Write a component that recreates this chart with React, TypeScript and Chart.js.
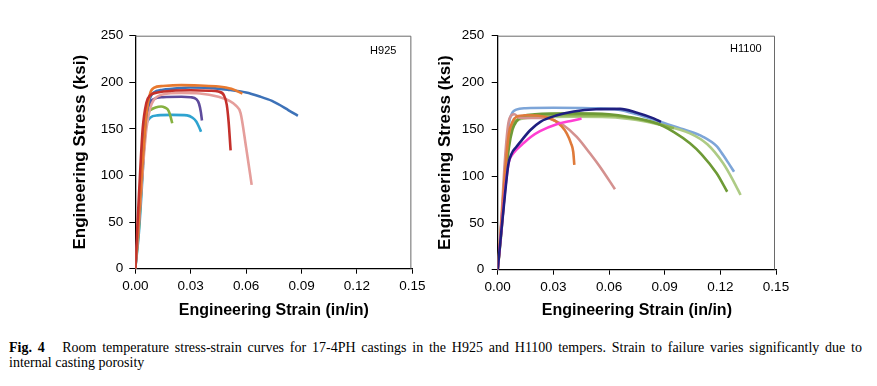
import React, { useEffect, useRef } from 'react';
import { Chart, registerables } from 'chart.js';
Chart.register(...registerables);

type Pt = [number, number];

// ---------- axis ticks ----------
const X_TICKS = [0, 0.03, 0.06, 0.09, 0.12, 0.15];
const Y_TICKS = [0, 50, 100, 150, 200, 250];

// ---------- H925 curves (strain in/in, stress ksi) ----------
const H925_BLUE: Pt[] = [[0, 0], [0.002, 60], [0.004, 120], [0.006, 165], [0.008, 183], [0.01, 189], [0.015, 192], [0.02, 193], [0.03, 194.5], [0.04, 194], [0.05, 192], [0.06, 189], [0.067, 185], [0.074, 180], [0.083, 170], [0.088, 164]];
const H925_ORANGE: Pt[] = [[0, 0], [0.002, 55], [0.004, 115], [0.006, 165], [0.008, 188], [0.01, 194], [0.015, 196], [0.025, 197], [0.035, 196.5], [0.045, 195.5], [0.052, 193], [0.058, 188]];
const H925_RED: Pt[] = [[0, 0], [0.002, 80], [0.004, 150], [0.006, 178], [0.008, 186], [0.012, 189], [0.02, 191], [0.03, 191.5], [0.04, 191], [0.045, 190], [0.048, 186], [0.0495, 176], [0.0505, 158], [0.0516, 127]];
const H925_PINK: Pt[] = [[0, 0], [0.002, 50], [0.004, 105], [0.006, 150], [0.008, 172], [0.01, 181], [0.015, 187], [0.025, 188.5], [0.035, 188], [0.045, 184.5], [0.051, 180], [0.0545, 175], [0.057, 167], [0.06, 130], [0.063, 90]];
const H925_PURPLE: Pt[] = [[0, 0], [0.002, 50], [0.004, 110], [0.006, 160], [0.008, 178], [0.01, 182], [0.015, 184], [0.025, 184.5], [0.03, 184], [0.033, 182], [0.0345, 177], [0.0355, 168], [0.0361, 159]];
const H925_GREEN: Pt[] = [[0, 0], [0.002, 45], [0.004, 110], [0.006, 163], [0.008, 170], [0.011, 173], [0.014, 174], [0.016, 173], [0.0175, 171], [0.0185, 167], [0.0195, 160], [0.02, 156]];
const H925_CYAN: Pt[] = [[0, 0], [0.002, 40], [0.0042, 110], [0.0052, 150], [0.006, 156], [0.008, 162], [0.012, 164.5], [0.02, 165], [0.028, 164.5], [0.031, 162], [0.033, 158], [0.0345, 152], [0.0356, 147]];

// ---------- H1100 curves ----------
const H1100_LIGHTBLUE: Pt[] = [[0, 0], [0.002, 50], [0.004, 110], [0.006, 155], [0.008, 168], [0.01, 171], [0.015, 172.5], [0.03, 173], [0.05, 172.5], [0.065, 171], [0.075, 166], [0.0874, 158], [0.1, 150], [0.1107, 142], [0.118, 132], [0.1215, 122.5], [0.125, 112], [0.1274, 104.7]];
const H1100_NAVY: Pt[] = [[0, 0], [0.002, 42], [0.004, 82], [0.0057, 112], [0.0075, 124], [0.01, 131], [0.012, 136], [0.0175, 149], [0.023, 158], [0.032, 165], [0.041, 169], [0.053, 171.4], [0.066, 171.8], [0.075, 167.7], [0.084, 161.7], [0.088, 158]];
const H1100_MAGENTA: Pt[] = [[0, 0], [0.002, 42], [0.004, 85], [0.006, 115], [0.0075, 122], [0.01, 128], [0.0138, 135], [0.018, 142], [0.0228, 148], [0.0318, 155.5], [0.0407, 159.5], [0.0452, 161.5]];
const H1100_ORANGE: Pt[] = [[0, 0], [0.002, 50], [0.004, 105], [0.006, 145], [0.008, 158], [0.0102, 163.5], [0.015, 165], [0.022, 164.5], [0.0264, 163], [0.031, 159], [0.0345, 153], [0.0372, 145.7], [0.0395, 135], [0.0407, 126], [0.0413, 112]];
const H1100_ROSE: Pt[] = [[0, 0], [0.002, 55], [0.004, 120], [0.0057, 156], [0.0075, 165], [0.009, 166], [0.0115, 162.5], [0.016, 162], [0.026, 162], [0.031, 159], [0.0353, 154.6], [0.0426, 142], [0.0497, 124.4], [0.0551, 110], [0.0632, 86]];
const H1100_DARKGREEN: Pt[] = [[0, 0], [0.002, 40], [0.004, 90], [0.006, 130], [0.008, 150], [0.01, 158], [0.0138, 164], [0.02, 166], [0.04, 167], [0.06, 166], [0.07, 163.5], [0.0856, 156.4], [0.095, 147], [0.1036, 135], [0.11, 123], [0.118, 103], [0.1237, 83.3]];
const H1100_MIDGREEN: Pt[] = [[0, 0], [0.002, 45], [0.004, 95], [0.006, 138], [0.008, 154], [0.011, 161], [0.02, 164], [0.04, 165], [0.06, 164.5], [0.075, 161], [0.088, 155], [0.095, 151]];
const H1100_LIGHTGREEN: Pt[] = [[0, 0], [0.002, 45], [0.004, 100], [0.006, 140], [0.008, 155], [0.011, 160], [0.02, 162.5], [0.04, 163.5], [0.06, 163], [0.075, 160], [0.0874, 155], [0.1036, 145.7], [0.113, 134], [0.1215, 113.7], [0.127, 95], [0.1309, 79.8]];

const H925_SERIES = [
  { data: H925_RED, color: '#C4302B' },
  { data: H925_ORANGE, color: '#E8792F' },
  { data: H925_BLUE, color: '#3D72B8' },
  { data: H925_PINK, color: '#E59E9B' },
  { data: H925_PURPLE, color: '#5E4B9C' },
  { data: H925_GREEN, color: '#86B140' },
  { data: H925_CYAN, color: '#2EA3D0' },
];

const H1100_SERIES = [
  { data: H1100_NAVY, color: '#1F1F80' },
  { data: H1100_MAGENTA, color: '#FF3FD2' },
  { data: H1100_ORANGE, color: '#DF7A3A' },
  { data: H1100_ROSE, color: '#D4918F' },
  { data: H1100_DARKGREEN, color: '#6E9A36' },
  { data: H1100_MIDGREEN, color: '#8DB350' },
  { data: H1100_LIGHTGREEN, color: '#AECB85' },
  { data: H1100_LIGHTBLUE, color: '#7DA5D8' },
];

const SANS = '"Liberation Sans", Arial, sans-serif';

interface PanelProps {
  series: { data: Pt[]; color: string }[];
  label: string;
  width: number;
  height: number;
  areaLeft: number;
  areaRight: number;
  areaTop: number;
  areaBottom: number;
  yTitlePad: number;
  yTickPad: number;
  labelDx: number;
  labelDy: number;
}

function Panel(p: PanelProps) {
  const ref = useRef<HTMLCanvasElement | null>(null);
  useEffect(() => {
    if (!ref.current) return;
    const framePlugin = {
      id: 'frameLabel',
      afterDraw(chart: any) {
        const { ctx, chartArea: a } = chart;
        ctx.save();
        ctx.strokeStyle = '#6a6a6a';
        ctx.lineWidth = 1;
        ctx.beginPath();
        ctx.moveTo(a.left, a.top + 0.5);
        ctx.lineTo(a.right - 1.5, a.top + 0.5);
        ctx.lineTo(a.right - 1.5, a.bottom);
        ctx.stroke();
        ctx.font = '11px ' + SANS;
        ctx.fillStyle = '#000';
        ctx.textAlign = 'right';
        ctx.textBaseline = 'middle';
        ctx.fillText(p.label, a.right - p.labelDx, a.top + p.labelDy);
        ctx.restore();
      },
    };
    const chart = new Chart(ref.current, {
      type: 'line',
      data: {
        datasets: p.series.map((s) => ({
          data: s.data.map(([x, y]) => ({ x, y })),
          borderColor: s.color,
          borderWidth: 2.6,
          pointRadius: 0,
          fill: false,
          cubicInterpolationMode: 'monotone' as const,
        })),
      },
      options: {
        responsive: false,
        animation: false,
        layout: { padding: { left: 0, top: p.areaTop, right: p.width - p.areaRight, bottom: 0 } },
        plugins: { legend: { display: false }, tooltip: { enabled: false } },
        scales: {
          x: {
            type: 'linear',
            min: 0,
            max: 0.15,
            afterBuildTicks: (s: any) => {
              s.ticks = X_TICKS.map((v) => ({ value: v }));
            },
            afterFit: (s: any) => {
              s.height = p.height - p.areaBottom;
            },
            ticks: {
              autoSkip: false,
              maxRotation: 0,
              padding: 4.5,
              color: '#000',
              font: { family: SANS, size: 13.5 },
              callback: (v: any) => Number(v).toFixed(2),
            },
            grid: { drawOnChartArea: false, drawTicks: true, tickLength: 5, color: '#000' },
            border: { display: true, color: '#000', width: 1.3 },
            title: {
              display: true,
              text: 'Engineering Strain (in/in)',
              color: '#000',
              font: { family: SANS, size: 16, weight: 'bold' },
              padding: { top: 0, bottom: 9.7 },
            },
          },
          y: {
            type: 'linear',
            min: 0,
            max: 250,
            afterBuildTicks: (s: any) => {
              s.ticks = Y_TICKS.map((v) => ({ value: v }));
            },
            afterFit: (s: any) => {
              s.width = p.areaLeft;
            },
            ticks: {
              autoSkip: false,
              padding: p.yTickPad,
              color: '#000',
              font: { family: SANS, size: 13.5 },
              callback: (v: any) => String(v),
            },
            grid: { drawOnChartArea: false, drawTicks: true, tickLength: 6, color: '#000' },
            border: { display: true, color: '#000', width: 1.3 },
            title: {
              display: true,
              text: 'Engineering Stress (ksi)',
              color: '#000',
              font: { family: SANS, size: 17, weight: 'bold' },
              padding: { top: p.yTitlePad, bottom: 0 },
            },
          },
        },
      },
      plugins: [framePlugin],
    });
    return () => chart.destroy();
  }, []);
  return <canvas ref={ref} width={p.width} height={p.height} style={{ display: 'block', width: p.width, height: p.height }} />;
}

export default function App() {
  return (
    <div style={{ position: 'absolute', left: 0, top: 0, width: 877, height: 386, background: '#fff', overflow: 'hidden' }}>
      <div style={{ position: 'absolute', left: 0, top: 0 }}>
        <Panel series={H925_SERIES} label="H925" width={430} height={330} areaLeft={135.3} areaRight={415.3} areaTop={35.7} areaBottom={268.7} yTitlePad={69.8} yTickPad={6} labelDx={16} labelDy={15.3} />
      </div>
      <div style={{ position: 'absolute', left: 430, top: 0 }}>
        <Panel series={H1100_SERIES} label="H1100" width={447} height={330} areaLeft={67.7} areaRight={346} areaTop={35.7} areaBottom={269.7} yTitlePad={5.5} yTickPad={7.5} labelDx={14.3} labelDy={13.3} />
      </div>
      <div style={{ position: 'absolute', left: 9, top: 340.1, width: 853, fontFamily: '"Liberation Serif", "Times New Roman", serif', fontSize: 14, lineHeight: '15px', color: '#000' }}>
        <div style={{ textAlign: 'justify', textAlignLast: 'justify', whiteSpace: 'nowrap' as any }}>
          <b>Fig. 4</b>&nbsp;&nbsp; Room temperature stress-strain curves for 17-4PH castings in the H925 and H1100 tempers. Strain to failure varies significantly due to
        </div>
        <div>internal casting porosity</div>
      </div>
    </div>
  );
}
